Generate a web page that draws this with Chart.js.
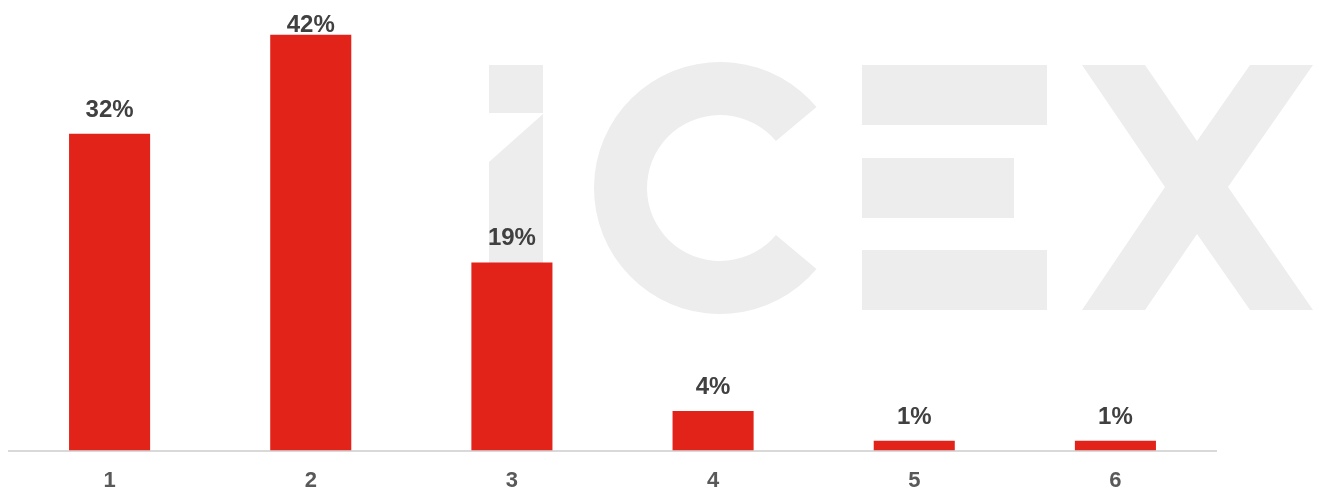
<!DOCTYPE html>
<html>
<head>
<meta charset="utf-8">
<script src="https://cdn.jsdelivr.net/npm/chart.js@4/dist/chart.umd.min.js"></script>
<style>
html,body{margin:0;padding:0;background:#fff;overflow:hidden;}
canvas{display:block;}
</style>
</head>
<body>
<canvas id="c" width="1319" height="490" style="width:1319px;height:490px;"></canvas>
<script>
const categories = ['1', '2', '3', '4', '5', '6'];
const values = [32, 42, 19, 4, 1, 1];
const valueLabels = ['32%', '42%', '19%', '4%', '1%', '1%'];

const FONT = "'Liberation Sans', Arial, sans-serif";

const watermark = {
  id: 'watermark',
  beforeDatasetsDraw(chart) {
    const ctx = chart.ctx;
    ctx.save();
    ctx.fillStyle = '#EDEDED';
    // i
    ctx.fillRect(489, 65, 54, 48);
    ctx.beginPath();
    ctx.moveTo(489, 162); ctx.lineTo(543, 114); ctx.lineTo(543, 310); ctx.lineTo(489, 310);
    ctx.closePath(); ctx.fill();
    // C
    const cx = 720, cy = 188, R = 126, r = 73;
    const a1 = 40 * Math.PI / 180, a2 = 320 * Math.PI / 180;
    ctx.beginPath();
    ctx.arc(cx, cy, R, a1, a2, false);
    ctx.arc(cx, cy, r, a2, a1, true);
    ctx.closePath(); ctx.fill();
    // E
    ctx.fillRect(862, 65, 185, 60);
    ctx.fillRect(862, 158, 152, 60);
    ctx.fillRect(862, 250, 185, 60);
    // X
    ctx.beginPath();
    ctx.moveTo(1082, 65); ctx.lineTo(1145, 65); ctx.lineTo(1197, 141);
    ctx.lineTo(1250, 65); ctx.lineTo(1313, 65); ctx.lineTo(1228, 187);
    ctx.lineTo(1313, 310); ctx.lineTo(1250, 310); ctx.lineTo(1197, 234);
    ctx.lineTo(1145, 310); ctx.lineTo(1082, 310); ctx.lineTo(1165, 187);
    ctx.closePath(); ctx.fill();
    ctx.restore();
  }
};

const valueLabelPlugin = {
  id: 'valueLabels',
  afterDatasetsDraw(chart) {
    const ctx = chart.ctx;
    const meta = chart.getDatasetMeta(0);
    ctx.save();
    ctx.font = "bold 24px " + FONT;
    ctx.fillStyle = '#404040';
    ctx.textAlign = 'center';
    ctx.textBaseline = 'alphabetic';
    meta.data.forEach((bar, i) => {
      ctx.fillText(valueLabels[i], bar.x, Math.max(bar.y - 17, 31.5));
    });
    ctx.restore();
  }
};

new Chart(document.getElementById('c'), {
  type: 'bar',
  data: {
    labels: categories,
    datasets: [{
      data: values,
      backgroundColor: '#E2231A',
      borderWidth: 0,
      categoryPercentage: 1,
      barPercentage: 0.403
    }]
  },
  options: {
    responsive: false,
    animation: false,
    layout: { padding: { left: 9, right: 103, top: 5, bottom: -21 } },
    plugins: { legend: { display: false }, tooltip: { enabled: false } },
    scales: {
      x: {
        grid: { display: false, drawTicks: false },
        border: { display: true, color: '#D9D9D9', width: 2 },
        ticks: { color: '#595959', font: { family: FONT, size: 22, weight: 'bold' }, padding: 17 }
      },
      y: {
        display: false,
        min: 0,
        max: 45
      }
    }
  },
  plugins: [watermark, valueLabelPlugin]
});
</script>
</body>
</html>
